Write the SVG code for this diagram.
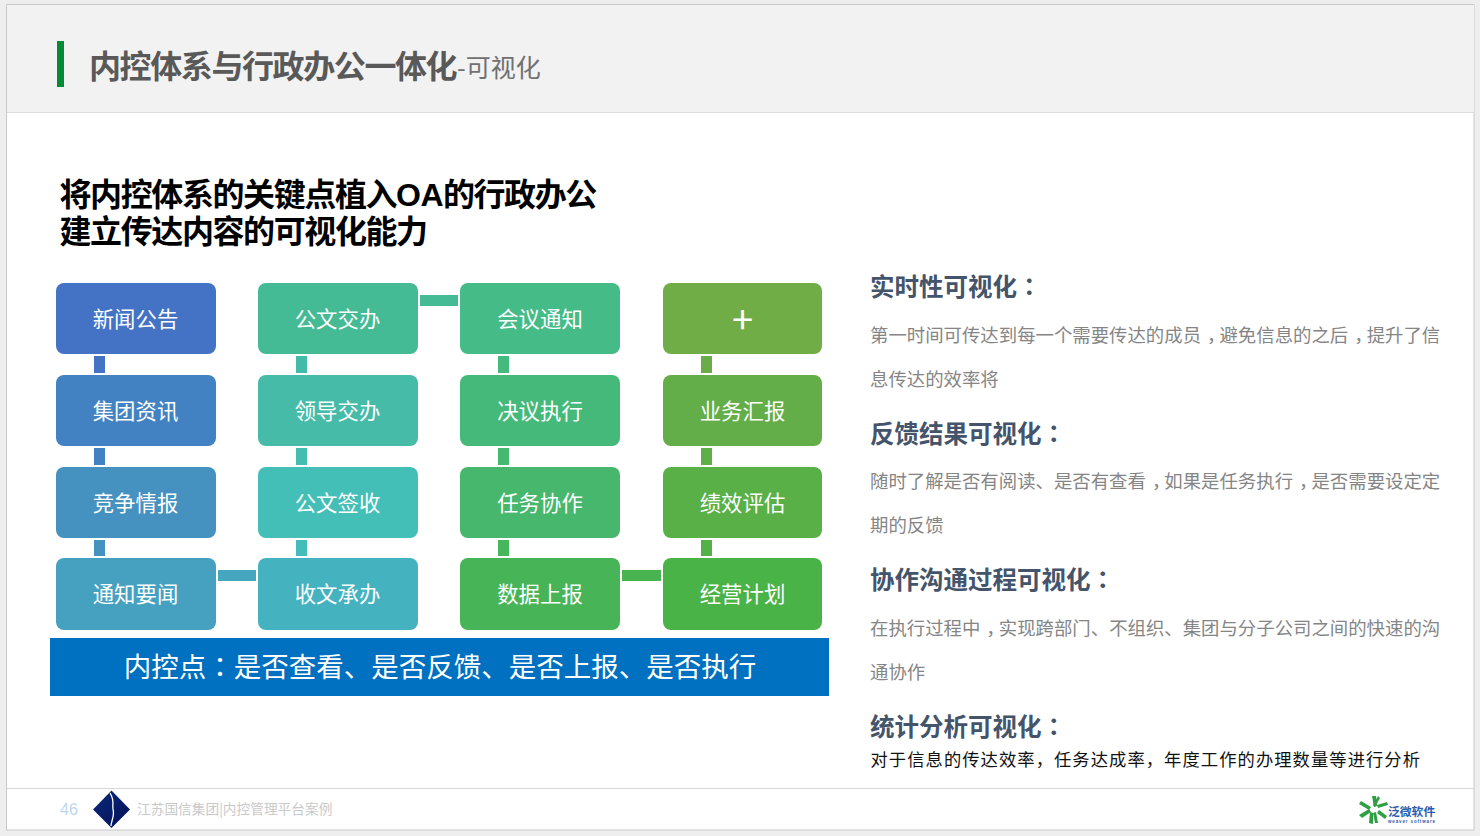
<svg xmlns="http://www.w3.org/2000/svg" width="1480" height="836" viewBox="0 0 1480 836">
<style>
text{font-family:"Noto Sans CJK SC","Liberation Sans",sans-serif}
.n{fill:#fff;font-size:21.4px;text-anchor:middle}
.h{fill:#44546a;font-size:24.5px;font-weight:700}
.b{fill:#858585;font-size:18.4px}
.p{font-family:"Noto Sans CJK TC","Liberation Sans",sans-serif}
</style>
<defs>
<linearGradient id="nv" x1="0" y1="0" x2="1" y2="1"><stop offset="0" stop-color="#0a2a78"/><stop offset="1" stop-color="#020f5a"/></linearGradient>
</defs>
<rect width="1480" height="836" fill="#eeeeee"/>
<g id="slide">
<rect x="6.5" y="4.5" width="1467.5" height="825.5" fill="#fff" stroke="#c8c8c8"/>
<rect x="7" y="5" width="1467" height="107" fill="#f2f2f2"/>
<line x1="7" y1="112.5" x2="1474" y2="112.5" stroke="#dcdcdc"/>
<rect x="57" y="41" width="7" height="46" fill="#078a36"/>
<text x="89" y="78" font-size="32" font-weight="700" fill="#595959" letter-spacing="-1.4">内控体系与行政办公一体化</text>
<text x="457" y="77" font-size="25" fill="#707070">-可视化</text>
<text x="59.500" y="206" font-size="32" font-weight="700" fill="#000" letter-spacing="-1.4">将内控体系的关键点植入<tspan style="font-family:'Liberation Sans',sans-serif" letter-spacing="-0.6">OA</tspan>的行政办公</text>
<text x="59.500" y="243" font-size="32" font-weight="700" fill="#000" letter-spacing="-1.4">建立传达内容的可视化能力</text>
</g>
<g id="connectors">
<rect x="94" y="356" width="11" height="17" fill="#4472c4"/>
<rect x="94" y="448" width="11" height="17" fill="#4382c2"/>
<rect x="94" y="540" width="11" height="16" fill="#4591c0"/>
<rect x="296" y="356" width="11" height="17" fill="#44bba8"/>
<rect x="296" y="448" width="11" height="17" fill="#44bdb0"/>
<rect x="296" y="540" width="11" height="16" fill="#44bcb9"/>
<rect x="498" y="356" width="11" height="17" fill="#45ba7e"/>
<rect x="498" y="448" width="11" height="17" fill="#46b870"/>
<rect x="498" y="540" width="11" height="16" fill="#47b65c"/>
<rect x="701" y="356" width="11" height="17" fill="#6aad48"/>
<rect x="701" y="448" width="11" height="17" fill="#5eaf48"/>
<rect x="701" y="540" width="11" height="16" fill="#53b147"/>
<rect x="420" y="295" width="38" height="11" fill="#44bb94"/>
<rect x="218" y="570" width="38" height="11" fill="#45a6bf"/>
<rect x="622" y="570" width="39" height="11" fill="#48b450"/>
</g>
<g id="n1"><rect x="56" y="283" width="160" height="71" rx="8" fill="#4472c4"/><text class="n" x="135.500" y="326.500">新闻公告</text></g>
<g id="n2"><rect x="56" y="375" width="160" height="71" rx="8" fill="#4382c2"/><text class="n" x="135.500" y="418.500">集团资讯</text></g>
<g id="n3"><rect x="56" y="467" width="160" height="71" rx="8" fill="#4591c0"/><text class="n" x="135.500" y="510.500">竞争情报</text></g>
<g id="n4"><rect x="56" y="558" width="160" height="72" rx="8" fill="#46a1c0"/><text class="n" x="135.500" y="601.500">通知要闻</text></g>
<g id="n5"><rect x="258" y="283" width="160" height="71" rx="8" fill="#44bb94"/><text class="n" x="337.500" y="326.500">公文交办</text></g>
<g id="n6"><rect x="258" y="375" width="160" height="71" rx="8" fill="#45bba8"/><text class="n" x="337.500" y="418.500">领导交办</text></g>
<g id="n7"><rect x="258" y="467" width="160" height="71" rx="8" fill="#44bfb8"/><text class="n" x="337.500" y="510.500">公文签收</text></g>
<g id="n8"><rect x="258" y="558" width="160" height="72" rx="8" fill="#45b2bf"/><text class="n" x="337.500" y="601.500">收文承办</text></g>
<g id="n9"><rect x="460" y="283" width="160" height="71" rx="8" fill="#45bb88"/><text class="n" x="540" y="326.500">会议通知</text></g>
<g id="n10"><rect x="460" y="375" width="160" height="71" rx="8" fill="#45b97a"/><text class="n" x="540" y="418.500">决议执行</text></g>
<g id="n11"><rect x="460" y="467" width="160" height="71" rx="8" fill="#46b76c"/><text class="n" x="540" y="510.500">任务协作</text></g>
<g id="n12"><rect x="460" y="558" width="160" height="72" rx="8" fill="#47b557"/><text class="n" x="540" y="601.500">数据上报</text></g>
<g id="n13"><rect x="663" y="283" width="159" height="71" rx="8" fill="#70ad47"/><text class="n" x="742.500" y="334" style="font-size:38px">+</text></g>
<g id="n14"><rect x="663" y="375" width="159" height="71" rx="8" fill="#63ae49"/><text class="n" x="742.500" y="418.500">业务汇报</text></g>
<g id="n15"><rect x="663" y="467" width="159" height="71" rx="8" fill="#58b047"/><text class="n" x="742.500" y="510.500">绩效评估</text></g>
<g id="n16"><rect x="663" y="558" width="159" height="72" rx="8" fill="#4ab347"/><text class="n" x="742.500" y="601.500">经营计划</text></g>
<g id="bar"><rect x="50" y="638" width="779" height="58" fill="#0070c0"/><text x="440" y="677" font-size="27.500" fill="#fff" text-anchor="middle">内控点<tspan class="p">：</tspan>是否查看、是否反馈、是否上报、是否执行</text></g>
<g id="notes">
<text class="h" x="870" y="296">实时性可视化<tspan class="p">：</tspan></text>
<text class="b" x="870" y="342">第一时间可传达到每一个需要传达的成员<tspan dx="6">，</tspan><tspan dx="-6">避</tspan>免信息的之后<tspan dx="6">，</tspan><tspan dx="-6">提</tspan>升了信</text>
<text class="b" x="870" y="386">息传达的效率将</text>
<text class="h" x="870" y="443">反馈结果可视化<tspan class="p">：</tspan></text>
<text class="b" x="870" y="488">随时了解是否有阅读、是否有查看<tspan dx="6">，</tspan><tspan dx="-6">如</tspan>果是任务执行<tspan dx="6">，</tspan><tspan dx="-6">是</tspan>否需要设定定</text>
<text class="b" x="870" y="532">期的反馈</text>
<text class="h" x="870" y="589">协作沟通过程可视化<tspan class="p">：</tspan></text>
<text class="b" x="870" y="635">在执行过程中<tspan dx="6">，</tspan><tspan dx="-6">实</tspan>现跨部门、不组织、集团与分子公司之间的快速的沟</text>
<text class="b" x="870" y="679">通协作</text>
<text class="h" x="870" y="736">统计分析可视化<tspan class="p">：</tspan></text>
<text x="870.500" y="766" font-size="17.300" fill="#111" letter-spacing="1.070">对于信息的传达效率，任务达成率，年度工作的办理数量等进行分析</text>
</g>
<g id="footer">
<line x1="7" y1="788.500" x2="1474" y2="788.500" stroke="#d8d8d8"/>
<text x="60" y="815" font-size="16" fill="#bdd7ee" style="font-family:'Liberation Sans',sans-serif">46</text>
<path d="M111.500 790.500L130 809.500L111.500 828L93 809.500Z" fill="url(#nv)"/>
<path d="M110 793C115 801 112 805 113 809C115 816 111 821 111 826" fill="none" stroke="#fff" stroke-width="1.300"/>
<text x="137" y="814" font-size="13.700" fill="#c9c9c9">江苏国信集团|内控管理平台案例</text>
</g>
<g id="weaver-logo">
<g fill="#2f9e44">
<path d="M1372 796l4 0 1 10-3 1z"/><path d="M1359 804l2-3 10 6-2 3z"/><path d="M1359 815l10-6 2 3-9 6z"/><path d="M1369 823l1-11 3 1 0 11z"/><path d="M1378 796l2 2-5 9-2-2z"/><path d="M1387 802l1 3-10 3-1-3z"/><path d="M1387 816l-2 3-8-6 2-3z"/><path d="M1378 823l-3 0-2-10 3-1z"/>
</g>
<text x="1388" y="816" font-size="11.800" font-weight="700" fill="#2a5caa">泛微软件</text>
<text x="1388" y="823" font-size="4.500" font-weight="700" fill="#2a5caa" style="font-family:'Liberation Sans',sans-serif" textLength="47">weaver software</text>
</g>
</svg>
